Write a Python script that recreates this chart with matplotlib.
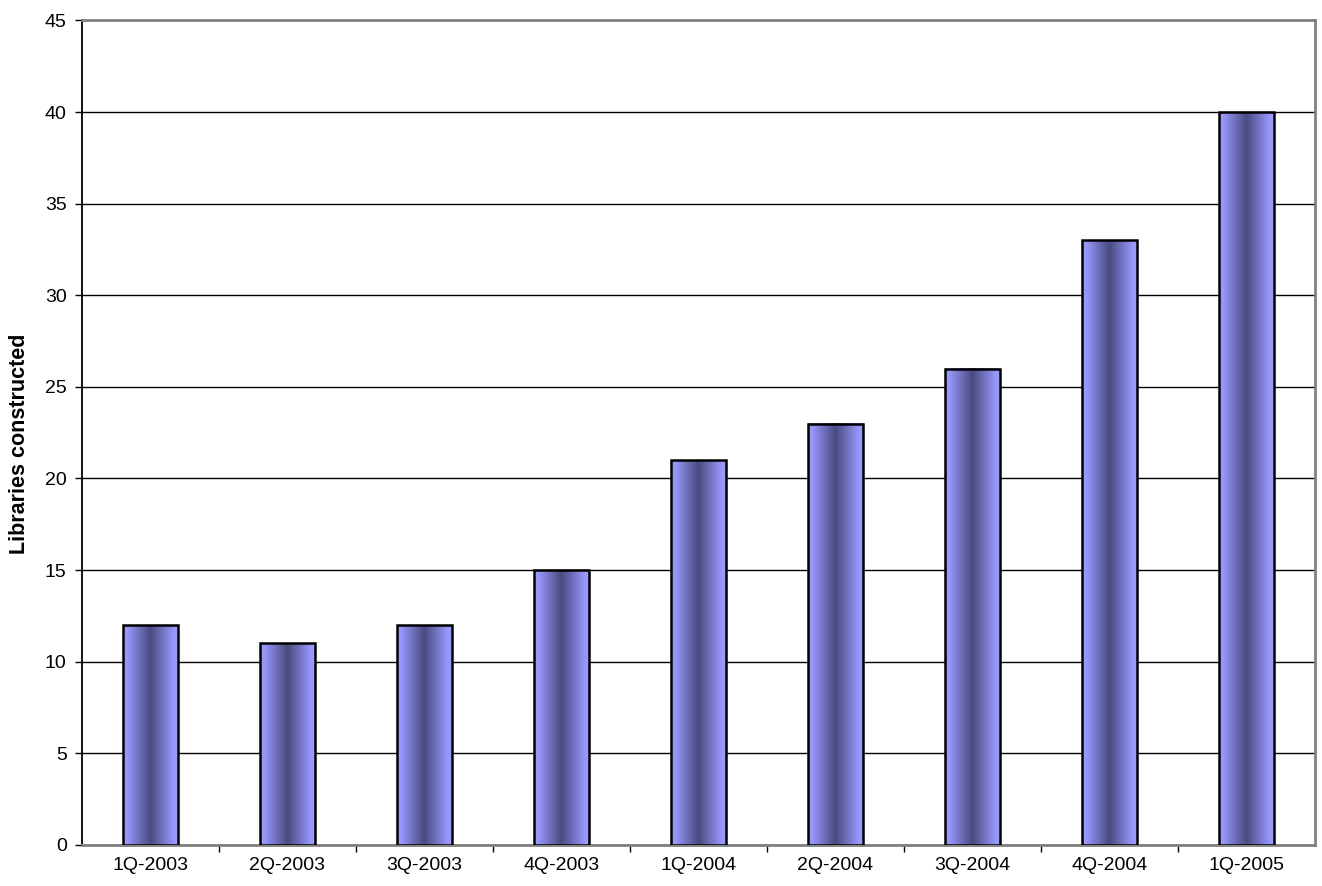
import matplotlib
matplotlib.use("Agg")
import matplotlib.pyplot as plt
import numpy as np
from matplotlib.colors import LinearSegmentedColormap
from matplotlib.patches import Rectangle

plt.rcParams['font.family'] = ['Liberation Sans', 'DejaVu Sans']

quarters = ['1Q-2003', '2Q-2003', '3Q-2003', '4Q-2003', '1Q-2004',
            '2Q-2004', '3Q-2004', '4Q-2004', '1Q-2005']
libraries = [12, 11, 12, 15, 21, 23, 26, 33, 40]

fig = plt.figure(figsize=(13.22, 8.86), dpi=100)
ax = fig.add_axes([0.062, 0.0463, 0.9327, 0.9307])

# excel style gradient: light at the edges, dark in the middle
cmap = LinearSegmentedColormap.from_list(
    'bar', [(0, '#9c9cff'), (0.08, '#9797fb'), (0.5, '#4a4a80'),
            (0.92, '#9797fb'), (1, '#9c9cff')])
grad = np.linspace(0, 1, 256).reshape(1, -1)

width = 0.4
x = np.arange(len(quarters))
for xi, h in zip(x, libraries):
    x0, x1 = xi - width / 2, xi + width / 2
    ax.imshow(grad, cmap=cmap, aspect='auto', extent=[x0, x1, 0, h],
              interpolation='bicubic', zorder=3)
    ax.add_patch(Rectangle((x0, 0), width, h, fill=False, edgecolor='black',
                           linewidth=1.8, zorder=4))

ax.set_xlim(-0.5, len(quarters) - 0.5)
ax.set_ylim(0, 45)
ax.set_yticks(np.arange(0, 46, 5))
ax.yaxis.grid(True, color='black', linewidth=1)
ax.set_axisbelow(True)

ax.set_xticks(x)
ax.set_xticklabels(quarters, fontsize=14)
ax.set_xticks(np.arange(0.5, len(quarters) - 0.5, 1), minor=True)
ax.tick_params(axis='x', which='major', length=0, pad=9)
ax.tick_params(axis='x', which='minor', length=5, width=1, color='black')
ax.tick_params(axis='y', labelsize=14, length=5, width=1, pad=6)

for s in ['top', 'right', 'bottom']:
    ax.spines[s].set_color('#808080')
    ax.spines[s].set_linewidth(2)
ax.spines['left'].set_color('black')
ax.spines['left'].set_linewidth(1.3)

ax.set_ylabel('Libraries constructed', fontsize=15.5, fontweight='bold')
ax.yaxis.set_label_coords(-0.042, 0.487)

fig.savefig('out.png', dpi=100)
